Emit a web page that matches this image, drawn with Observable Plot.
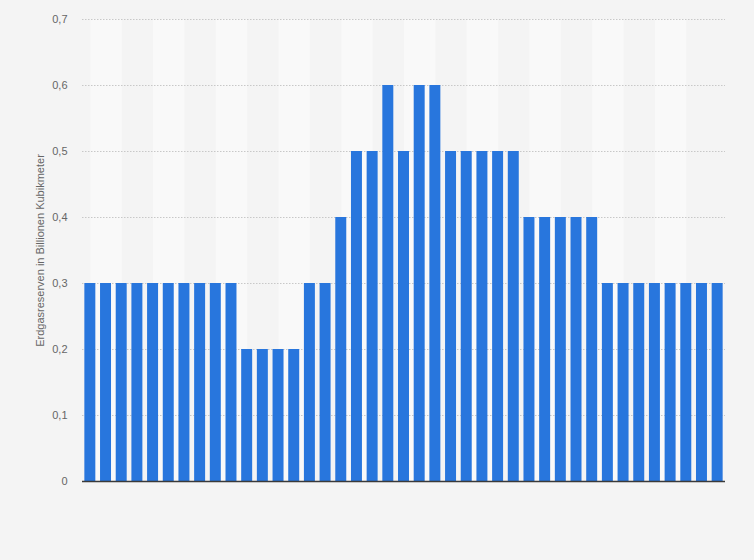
<!DOCTYPE html>
<html>
<head>
<meta charset="utf-8">
<script src="https://cdn.jsdelivr.net/npm/d3@7"></script>
<script src="https://cdn.jsdelivr.net/npm/@observablehq/plot@0.6"></script>
<style>
  html, body { margin: 0; padding: 0; background: #f4f4f4; }
  #chart svg { display: block; }
</style>
</head>
<body>
<div id="chart"></div>
<script>
// Categories (year labels are not shown in the chart)
const years = [1980,1981,1982,1983,1984,1985,1986,1987,1988,1989,
               1990,1991,1992,1993,1994,1995,1996,1997,1998,1999,
               2000,2001,2002,2003,2004,2005,2006,2007,2008,2009,
               2010,2011,2012,2013,2014,2015,2016,2017,2018,2019,2020];
// Natural gas reserves, trillion cubic metres
const reserves = [0.3,0.3,0.3,0.3,0.3,0.3,0.3,0.3,0.3,0.3,
                  0.2,0.2,0.2,0.2,0.3,0.3,0.4,0.5,0.5,0.6,
                  0.5,0.6,0.6,0.5,0.5,0.5,0.5,0.5,0.4,0.4,
                  0.4,0.4,0.4,0.3,0.3,0.3,0.3,0.3,0.3,0.3,0.3];
const yTicks = [0, 0.1, 0.2, 0.3, 0.4, 0.5, 0.6, 0.7];
const yLabel = "Erdgasreserven in Billionen Kubikmeter";

const data = years.map((y, i) => ({year: y, value: reserves[i]}));

const W = 754, H = 560, mL = 82, mR = 29, mT = 19, mB = 79;
const padIn = 0.3, padOut = 0.15;
const step = (W - mL - mR) / (years.length - padIn + 2 * padOut);
// alternating background bands: each spans two bars
const bandCenters = years.filter((d, i) => i % 4 === 1 && i + 1 < years.length);

const chart = Plot.plot({
  width: W,
  height: H,
  marginLeft: mL,
  marginRight: mR,
  marginTop: mT,
  marginBottom: mB,
  style: {background: "#f4f4f4", fontFamily: "'Liberation Sans', Arial, sans-serif"},
  x: {type: "band", domain: years, paddingInner: padIn, paddingOuter: padOut, round: false, axis: null},
  y: {domain: [0, 0.7], axis: null},
  marks: [
    Plot.ruleX(bandCenters, {x: d => d, stroke: "#f9f9f9", strokeWidth: step * 2}),
    Plot.gridY(yTicks.filter(d => d > 0), {stroke: "#c8c8c8", strokeOpacity: 1, strokeDasharray: "1.5,1.5"}),
    Plot.barY(data, {x: "year", y: "value", fill: "#2876dd"}),
    Plot.ruleY([0], {stroke: "#3a3a3a", strokeWidth: 1.5}),
    Plot.axisY({
      ticks: yTicks,
      tickSize: 0,
      tickPadding: 15,
      tickFormat: d => String(d).replace(".", ","),
      fontSize: 11,
      color: "#666",
      label: yLabel,
      labelAnchor: "center",
      labelArrow: "none",
      labelOffset: 46
    })
  ]
});
document.getElementById("chart").appendChild(chart);
</script>
</body>
</html>
